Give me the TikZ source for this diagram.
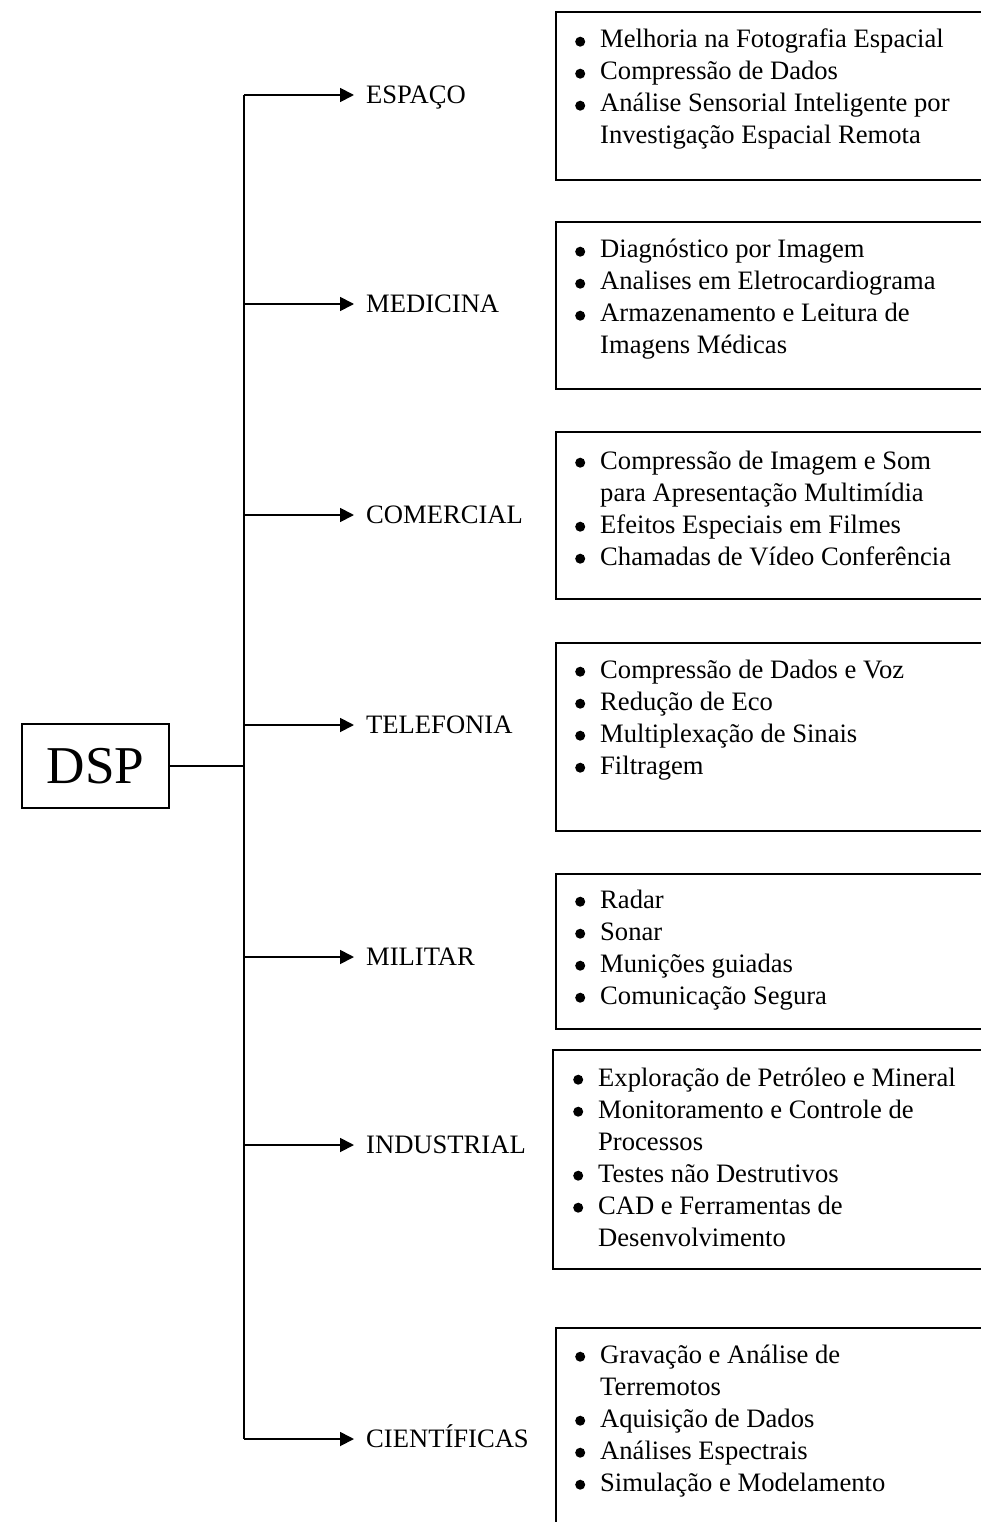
\documentclass[tikz,border=0pt]{standalone}
\usepackage{fontspec}
\usepackage{pict2e}
\setmainfont{Liberation Serif}
\usetikzlibrary{arrows.meta}

\newcommand\itemfont{\fontsize{26.6pt}{32pt}\selectfont}
\newcommand\dspfont{\fontsize{53.2pt}{60pt}\selectfont}
% a round filled list bullet, drawn as a path
\newcommand\bigdot{{\setlength{\unitlength}{1pt}\begin{picture}(26,0)\put(6,6.3){\circle*{10}}\end{picture}}}
% one bulleted line, and a continuation line indented to the text
\newcommand\pitem[1]{\bigdot#1\par}
\newcommand\pcont[1]{\hspace*{26pt}#1\par}

\tikzset{
  lnk/.style={line width=1.8pt},
  arr/.style={lnk,-{Triangle[length=14pt,width=14pt]},shorten >=12pt},
  area/.style={draw,line width=1.8pt,anchor=north west,minimum width=440pt,inner sep=0pt},
  items/.style={anchor=base west,inner sep=0pt,font=\itemfont},
  cat/.style={anchor=base west,inner sep=0pt,font=\itemfont},
}

\begin{document}
\begin{tikzpicture}[x=1pt,y=-1pt]
\useasboundingbox (0,0) rectangle (981,1522);
\clip (0,0) rectangle (981,1522);

% root
\node[draw,line width=1.8pt,minimum width=147pt,minimum height=84pt,inner sep=0pt,font=\dspfont] (dsp) at (95.5,766) {DSP};

% branch points on the trunk
\coordinate (b1) at (244,95);
\coordinate (b2) at (244,304);
\coordinate (b3) at (244,515);
\coordinate (b4) at (244,725);
\coordinate (b5) at (244,957);
\coordinate (b6) at (244,1145);
\coordinate (b7) at (244,1439);

% category labels
\node[cat] (l1) at (366,103.5) {ESPAÇO};
\node[cat] (l2) at (366,312.5) {MEDICINA};
\node[cat] (l3) at (366,523.5) {COMERCIAL};
\node[cat] (l4) at (366,733.5) {TELEFONIA};
\node[cat] (l5) at (366,965.5) {MILITAR};
\node[cat] (l6) at (366,1153.5) {INDUSTRIAL};
\node[cat] (l7) at (366,1447.5) {CIENTÍFICAS};

% trunk and connectors
\draw[lnk] (b1) -- (b7);
\draw[lnk] (dsp.east) -- (dsp.east -| b1);
\foreach \i in {1,...,7}{
  \draw[arr] (b\i) -- (b\i -| l\i.west);
}

% application boxes (open to the right)
\node[area,minimum height=168pt] (a1) at (555,11) {};
\node[area,minimum height=167pt] (a2) at (555,221) {};
\node[area,minimum height=167pt] (a3) at (555,431) {};
\node[area,minimum height=188pt] (a4) at (555,642) {};
\node[area,minimum height=155pt] (a5) at (555,873) {};
\node[area,minimum height=219pt] (a6) at (552,1049) {};
\node[area,minimum height=220pt] (a7) at (555,1327) {};

\node[items] (t1) at (574,48) {\parbox[t]{400pt}{%
  \pitem{Melhoria na Fotografia Espacial}
  \pitem{Compressão de Dados}
  \pitem{Análise Sensorial Inteligente por}
  \pcont{Investigação Espacial Remota}}};

\node[items] (t2) at (574,258) {\parbox[t]{400pt}{%
  \pitem{Diagnóstico por Imagem}
  \pitem{Analises em Eletrocardiograma}
  \pitem{Armazenamento e Leitura de}
  \pcont{Imagens Médicas}}};

\node[items] (t3) at (574,469) {\parbox[t]{400pt}{%
  \pitem{Compressão de Imagem e Som}
  \pcont{para Apresentação Multimídia}
  \pitem{Efeitos Especiais em Filmes}
  \pitem{Chamadas de Vídeo Conferência}}};

\node[items] (t4) at (574,678) {\parbox[t]{400pt}{%
  \pitem{Compressão de Dados e Voz}
  \pitem{Redução de Eco}
  \pitem{Multiplexação de Sinais}
  \pitem{Filtragem}}};

\node[items] (t5) at (574,908) {\parbox[t]{400pt}{%
  \pitem{Radar}
  \pitem{Sonar}
  \pitem{Munições guiadas}
  \pitem{Comunicação Segura}}};

\node[items] (t6) at (572,1086) {\parbox[t]{400pt}{%
  \pitem{Exploração de Petróleo e Mineral}
  \pitem{Monitoramento e Controle de}
  \pcont{Processos}
  \pitem{Testes não Destrutivos}
  \pitem{CAD e Ferramentas de}
  \pcont{Desenvolvimento}}};

\node[items] (t7) at (574,1363) {\parbox[t]{400pt}{%
  \pitem{Gravação e Análise de}
  \pcont{Terremotos}
  \pitem{Aquisição de Dados}
  \pitem{Análises Espectrais}
  \pitem{Simulação e Modelamento}}};
\end{tikzpicture}
\end{document}
